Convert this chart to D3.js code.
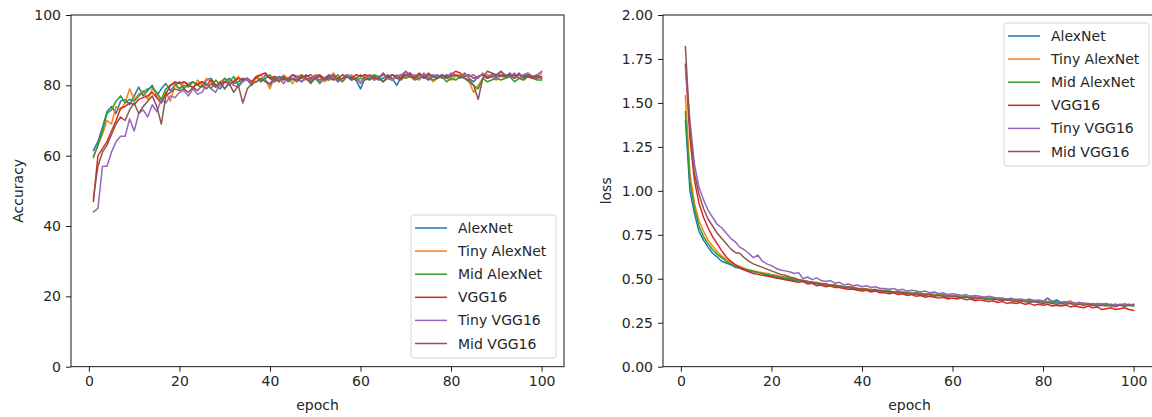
<!DOCTYPE html>
<html><head><meta charset="utf-8">
<script src="https://cdn.jsdelivr.net/npm/d3@7"></script>
<style>
body{margin:0;background:#fff;}
svg text{font-family:"DejaVu Sans",sans-serif;fill:#262626;}
</style></head>
<body><svg id="c" width="1152" height="417"></svg>
<script>
const seriesNames = ["AlexNet","Tiny AlexNet","Mid AlexNet","VGG16","Tiny VGG16","Mid VGG16"];
const seriesColors = ["#1f77b4","#ff7f0e","#2ca02c","#d62728","#9467bd","#8c564b"];
const epochs = d3.range(1,101);
const accTicks = [0,20,40,60,80,100];
const lossTicks = [0,0.25,0.5,0.75,1.0,1.25,1.5,1.75,2.0];
const epochTicks = [0,20,40,60,80,100];

const accAlexNet = [61.5,64,68,72.5,74,72,75.5,76,74.5,77, 79.5,77,78.5,80,77,79,80.5,78.5,80,81, 79,80.5,81,80,79.5,81.5,82,80,79,81, 82,80.5,81,82,81.5,80,82.5,81,83,82, 81,82.5,82,81.5,83,82,81,82.5,83,82, 81.5,82,83,82.5,81,82,83,82.5,81.5,79, 82,83,82.5,81.5,82,83,82,80,82.5,83, 83.5,82,83,82.5,81.5,82.5,83,82,83,82.5, 83,82,83.5,82,81,82.5,83,82,83,82.5, 83,82.5,83.5,82,83,82.5,83,82,82.5,82];
const accTinyAlexNet = [60,63,66,70,69,74,73,75,79,76, 77.5,78.5,76,79,77.5,75,78,75.5,80,79, 81,80.5,79,81.5,80,82,81,79.5,81,82, 80,81.5,82.5,81,82,80.5,82,83,81.5,79, 82.5,81,83,82,80.5,82.5,83,81.5,82,83, 82.5,81,82,83.5,82,81,82.5,83,82,81, 82.5,83,81.5,82.5,83,82,81.5,83,82,82.5, 83,82,81.5,83,82.5,81,82,83,82,81.5, 82.5,83,82,81,78,80,82,83,82.5,81.5, 83,82,82.5,83,82,81.5,83,82.5,82,83.5];
const accMidAlexNet = [59.5,63,67,72,73,75.5,77,75,76,75.5, 77,78,79,79.5,78,76,79,80,80.5,79, 80,79.5,81,80,81,80.5,79,81.5,80,82, 81,82.5,80,81.5,82,81,82.5,81,82,83, 81,82,82.5,81,82,81.5,83,82,80.5,82, 80.5,82,81.5,82,83,81,82.5,82,81.5,82, 81.5,82,83,82.5,81,82,81.5,82.5,83,82, 82.5,81.5,82,83,82,81.5,82,82.5,81,82, 81.5,82.5,82,81,80,79,82,81,81.5,82, 81.5,82,82.5,81,82,81.5,82.5,82,81.5,81.5];
const accVGG16 = [47,60,62,64,67,70,73.5,74,75,74.5, 76,76.5,77,78,76.5,75,77.5,80,81,80.5, 81,80,79.5,80.5,81,80,81.5,80,80.5,81, 80.5,81,82,81.5,82,81,82.5,83,83.5,82, 82.5,82,81.5,82,83,82.5,82,83,82,82.5, 83,82,82.5,81.5,82,83,82.5,82,83,82.5, 83,82.5,82,82,83.5,82,83,82.5,82,84, 83,82.5,83.5,82,83,82.5,82,83,82.5,83, 84,83.5,82.5,83,82,82.5,83,82,82.5,83, 82.5,83,82.5,83,82,83,82.5,82,83,82];
const accTinyVGG16 = [44,45,57,57,61,64,65.5,65.5,70.5,67, 72,73,71,74.5,72.5,76,75,77,76.5,78, 78.5,77,79,77.5,78,80.5,79,78,80.5,79, 81,80,79.5,81,82,80.5,81,82,81.5,80, 81.5,82,80.5,82,81.5,82.5,81,82,81.5,82.5, 81,82,81.5,82.5,81,82,83,81.5,82,80.5, 82,82.5,81.5,82,83,82,81.5,82.5,83,84, 82.5,83,82,83.5,82,83,82.5,83,82,83.5, 83,82.5,83,82.5,83,82,83.5,82.5,83,82, 84,83,82.5,83.5,82,83,83.5,82.5,83,84];
const accMidVGG16 = [48,57,61,63,66,69,71,70,73,75, 72,74,75.5,77,74,69,77,78,79,78.5, 79,78,79.5,78.5,80,79,80.5,79.5,81,79, 80.5,78,80,75,79,80.5,81,82,81,80.5, 82,81,82.5,81.5,82,81,82.5,82,81,82, 82.5,81.5,82,83,81.5,82,82.5,81.5,82,83, 82,81.5,82.5,82,81,82.5,83,82,81.5,83, 82.5,82,83,82,83.5,82.5,82,83,82,82.5, 83,82.5,82,81.5,80,76,82,84,83.5,83, 84,82.5,83,82,83.5,82,83,82.5,82,82.5];

const lossAlexNet = [1.40,1.00,0.87,0.77,0.72,0.68,0.645,0.625,0.60,0.59, 0.58,0.565,0.56,0.55,0.545,0.54,0.535,0.53,0.52,0.515, 0.51,0.505,0.50,0.495,0.49,0.49,0.485,0.48,0.475,0.47, 0.47,0.465,0.46,0.46,0.455,0.45,0.45,0.445,0.44,0.44, 0.44,0.435,0.43,0.435,0.43,0.425,0.425,0.42,0.425,0.42, 0.415,0.42,0.415,0.41,0.415,0.41,0.405,0.41,0.405,0.40, 0.405,0.40,0.395,0.40,0.395,0.39,0.395,0.39,0.385,0.39, 0.385,0.38,0.385,0.38,0.375,0.38,0.375,0.37,0.375,0.37, 0.39,0.37,0.38,0.365,0.37,0.365,0.36,0.365,0.36,0.355, 0.36,0.355,0.36,0.35,0.355,0.35,0.355,0.35,0.355,0.35];
const lossTinyAlexNet = [1.54,1.10,0.93,0.83,0.77,0.72,0.685,0.655,0.63,0.61, 0.595,0.58,0.57,0.56,0.55,0.545,0.54,0.535,0.53,0.525, 0.52,0.515,0.51,0.505,0.50,0.495,0.49,0.485,0.48,0.48, 0.475,0.47,0.465,0.465,0.46,0.455,0.45,0.455,0.445,0.445, 0.44,0.44,0.435,0.435,0.43,0.43,0.425,0.43,0.42,0.425, 0.42,0.415,0.42,0.41,0.415,0.41,0.41,0.405,0.41,0.40, 0.405,0.40,0.40,0.395,0.40,0.39,0.395,0.39,0.39,0.385, 0.39,0.385,0.38,0.385,0.38,0.38,0.375,0.38,0.37,0.375, 0.37,0.375,0.365,0.37,0.365,0.375,0.36,0.365,0.36,0.36, 0.355,0.36,0.355,0.36,0.35,0.355,0.35,0.36,0.35,0.355];
const lossMidAlexNet = [1.45,1.05,0.90,0.80,0.74,0.70,0.665,0.64,0.62,0.60, 0.585,0.57,0.565,0.555,0.55,0.545,0.535,0.53,0.525,0.52, 0.515,0.51,0.505,0.50,0.495,0.49,0.485,0.485,0.48,0.475, 0.47,0.47,0.465,0.46,0.46,0.455,0.45,0.45,0.445,0.44, 0.44,0.435,0.44,0.43,0.435,0.43,0.425,0.425,0.42,0.42, 0.415,0.42,0.41,0.415,0.41,0.405,0.41,0.40,0.405,0.40, 0.40,0.395,0.40,0.39,0.395,0.39,0.39,0.385,0.39,0.38, 0.385,0.38,0.38,0.375,0.38,0.37,0.375,0.37,0.37,0.365, 0.37,0.365,0.365,0.36,0.365,0.36,0.36,0.355,0.36,0.355, 0.35,0.355,0.35,0.355,0.345,0.35,0.35,0.345,0.35,0.345];
const lossVGG16 = [1.72,1.30,1.06,0.93,0.85,0.79,0.74,0.70,0.66,0.625, 0.60,0.58,0.565,0.55,0.54,0.53,0.525,0.52,0.515,0.51, 0.505,0.50,0.495,0.49,0.485,0.48,0.485,0.47,0.475,0.46, 0.465,0.455,0.46,0.45,0.45,0.445,0.44,0.44,0.435,0.43, 0.435,0.425,0.43,0.42,0.42,0.415,0.42,0.41,0.415,0.405, 0.41,0.40,0.405,0.395,0.40,0.395,0.39,0.395,0.385,0.39, 0.385,0.39,0.38,0.385,0.375,0.38,0.375,0.37,0.375,0.365, 0.37,0.36,0.365,0.36,0.365,0.355,0.36,0.35,0.355,0.35, 0.355,0.345,0.35,0.345,0.35,0.34,0.345,0.34,0.335,0.345, 0.335,0.34,0.325,0.33,0.335,0.325,0.33,0.335,0.325,0.32];
const lossTinyVGG16 = [1.70,1.40,1.15,1.02,0.95,0.89,0.85,0.81,0.79,0.76, 0.73,0.71,0.68,0.665,0.645,0.62,0.635,0.60,0.585,0.575, 0.56,0.55,0.545,0.54,0.53,0.535,0.50,0.51,0.495,0.505, 0.49,0.485,0.49,0.475,0.48,0.465,0.47,0.46,0.465,0.455, 0.46,0.45,0.455,0.445,0.445,0.44,0.445,0.435,0.44,0.43, 0.435,0.43,0.425,0.43,0.42,0.425,0.415,0.42,0.41,0.415, 0.41,0.405,0.41,0.40,0.405,0.40,0.395,0.40,0.395,0.39, 0.39,0.385,0.39,0.38,0.385,0.38,0.385,0.375,0.38,0.375, 0.37,0.375,0.37,0.365,0.37,0.365,0.36,0.365,0.36,0.36, 0.355,0.36,0.355,0.36,0.35,0.355,0.35,0.355,0.35,0.355];
const lossMidVGG16 = [1.82,1.35,1.10,0.98,0.90,0.84,0.80,0.76,0.73,0.70, 0.67,0.65,0.645,0.62,0.60,0.585,0.575,0.565,0.555,0.545, 0.535,0.525,0.52,0.51,0.505,0.495,0.49,0.485,0.48,0.475, 0.47,0.47,0.46,0.465,0.455,0.45,0.455,0.445,0.445,0.44, 0.44,0.435,0.435,0.43,0.43,0.425,0.425,0.42,0.42,0.415, 0.415,0.41,0.41,0.405,0.41,0.40,0.405,0.40,0.395,0.40, 0.395,0.39,0.395,0.39,0.385,0.39,0.385,0.38,0.385,0.38, 0.375,0.38,0.375,0.37,0.375,0.37,0.365,0.37,0.365,0.36, 0.365,0.36,0.355,0.36,0.355,0.36,0.35,0.355,0.35,0.355, 0.35,0.345,0.35,0.345,0.35,0.34,0.35,0.345,0.35,0.35];

const accSeries = [accAlexNet,accTinyAlexNet,accMidAlexNet,accVGG16,accTinyVGG16,accMidVGG16];
const lossSeries = [lossAlexNet,lossTinyAlexNet,lossMidAlexNet,lossVGG16,lossTinyVGG16,lossMidVGG16];

const svg = d3.select("#c");
const yTop = 15, yBottom = 366.7;
const FS = "14px";

function panel(opts){
  const g = svg.append("g");
  const x = d3.scaleLinear().domain([-3.95,104.95]).range([opts.left, opts.right]);
  const y = d3.scaleLinear().domain(opts.yDomain).range([yBottom, yTop]);
  const line = d3.line().x((d,i)=>x(epochs[i])).y(d=>y(d));
  const clipId = "clip"+opts.id;
  svg.append("clipPath").attr("id",clipId).append("rect")
    .attr("x",opts.left).attr("y",yTop).attr("width",opts.right-opts.left).attr("height",yBottom-yTop);
  g.append("g").attr("clip-path",`url(#${clipId})`).selectAll("path").data(opts.series).join("path")
    .attr("d",d=>line(d)).attr("fill","none").attr("stroke",(d,i)=>seriesColors[i])
    .attr("stroke-width",1.5).attr("stroke-linejoin","round").attr("stroke-linecap","square");
  const xa = g.append("g").attr("transform",`translate(0,${yBottom})`)
    .call(d3.axisBottom(x).tickValues(epochTicks).tickSize(5).tickPadding(4).tickFormat(d3.format("d")));
  const ya = g.append("g").attr("transform",`translate(${opts.left},0)`)
    .call(d3.axisLeft(y).tickValues(opts.yTicks).tickSize(5).tickPadding(5).tickFormat(opts.fmt));
  [xa,ya].forEach(a=>{
    a.select(".domain").remove();
    a.selectAll("line").attr("stroke","#000").attr("stroke-width",0.9);
    a.selectAll("text").style("font-size",FS).style("font-family","DejaVu Sans").attr("fill","#262626");
  });
  g.append("rect").attr("x",opts.left).attr("y",yTop).attr("width",opts.right-opts.left).attr("height",yBottom-yTop)
    .attr("fill","none").attr("stroke","#000").attr("stroke-width",0.9);
  g.append("text").attr("x",(opts.left+opts.right)/2).attr("y",410).attr("text-anchor","middle")
    .style("font-size",FS).text("epoch");
  g.append("text").attr("transform",`translate(${opts.ylabelX},${(yTop+yBottom)/2}) rotate(-90)`)
    .attr("text-anchor","middle").style("font-size",FS).text(opts.ylabel);
  const L = opts.legend;
  const lg = g.append("g");
  lg.append("rect").attr("x",L.x).attr("y",L.y).attr("width",L.w).attr("height",L.h).attr("rx",3)
    .attr("fill","#fff").attr("fill-opacity",0.8).attr("stroke","#d6d6d6").attr("stroke-width",1);
  seriesNames.forEach((n,i)=>{
    const yy = L.y + 13 + i*23.1;
    lg.append("line").attr("x1",L.x+4).attr("x2",L.x+36).attr("y1",yy).attr("y2",yy)
      .attr("stroke",seriesColors[i]).attr("stroke-width",1.5);
    lg.append("text").attr("x",L.x+47).attr("y",yy+5).style("font-size",FS).text(n);
  });
}

panel({id:1,left:71,right:564,yDomain:[0,100],yTicks:accTicks,fmt:d3.format("d"),
  ylabel:"Accuracy",ylabelX:23,series:accSeries,legend:{x:411,y:215,w:145,h:143}});
panel({id:2,left:663,right:1156,yDomain:[0,2],yTicks:lossTicks,fmt:d3.format(".2f"),
  ylabel:"loss",ylabelX:611,series:lossSeries,legend:{x:1004,y:23,w:145,h:143}});
</script></body></html>
